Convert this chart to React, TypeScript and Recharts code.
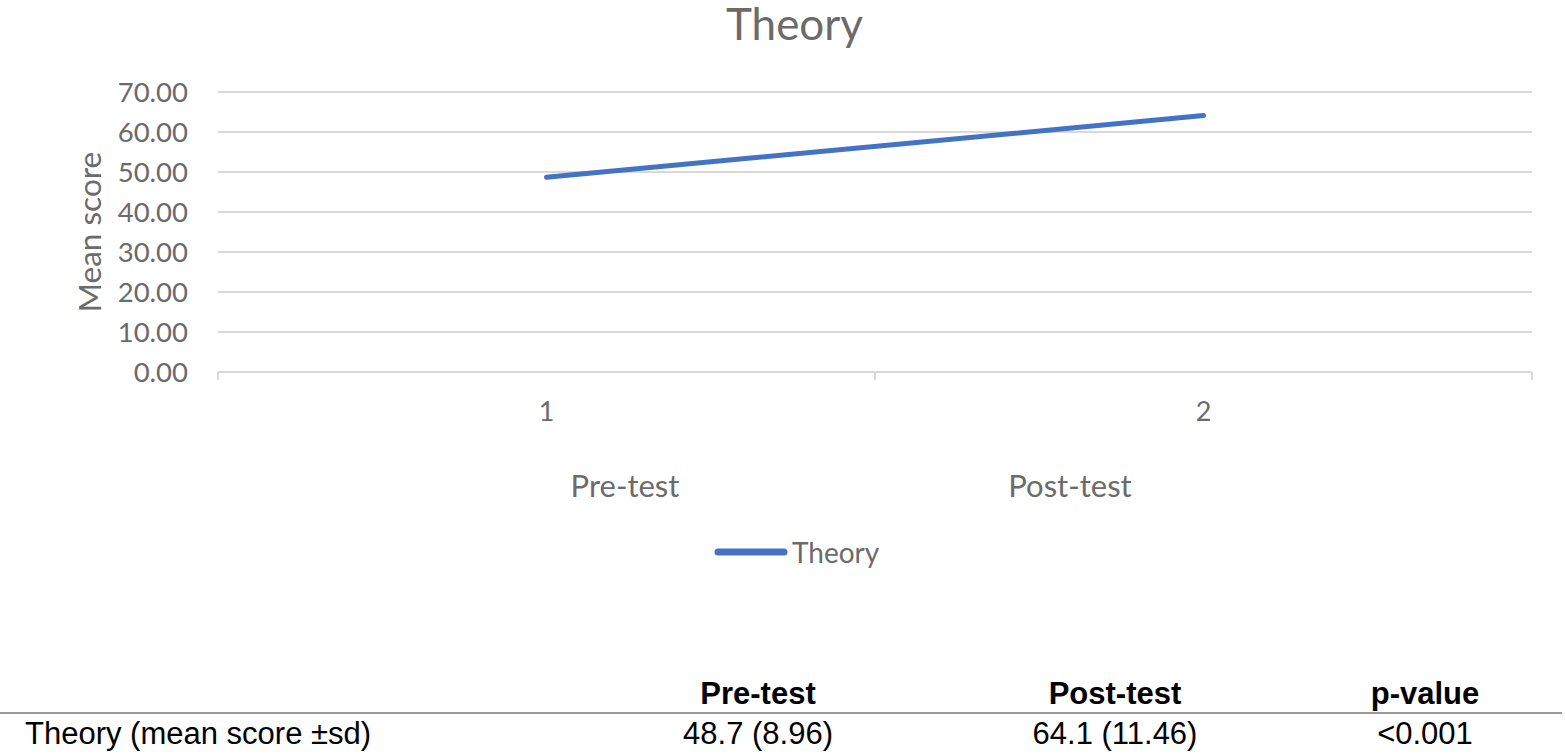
import React from "react";
import {
  LineChart,
  Line,
  XAxis,
  YAxis,
  CartesianGrid,
} from "recharts";

const categories = [1, 2];
const theoryMeans = [48.7, 64.1];
const phaseLabels = ["Pre-test", "Post-test"];
const yTicks = [0, 10, 20, 30, 40, 50, 60, 70];

const tableHeaders = ["Pre-test", "Post-test", "p-value"];
const tableRowLabel = "Theory (mean score ±sd)";
const tableRowValues = ["48.7 (8.96)", "64.1 (11.46)", "<0.001"];

const data = categories.map((c, i) => ({ x: c, theory: theoryMeans[i] }));

const GREY = "#6b6b6b";
const BLUE = "#4472C4";
const FONT = "Lato, 'Open Sans', sans-serif";

const XTick = (props: any) => {
  const { x, y, payload } = props;
  if (Number.isInteger(payload.value)) {
    return (
      <text x={x} y={y + 49} textAnchor="middle" fill={GREY} fontSize={27} fontFamily={FONT}>
        {payload.value}
      </text>
    );
  }
  return <line x1={x} y1={y} x2={x} y2={y + 8} stroke="#d9d9d9" strokeWidth={2} />;
};

const App: React.FC = () => {
  return (
    <div style={{ position: "absolute", left: 0, top: 0, width: 1565, height: 754, background: "#fff" }}>
      <div
        style={{
          position: "absolute",
          top: 0,
          width: 1565,
          textAlign: "center",
          fontFamily: FONT,
          fontSize: 44,
          color: GREY,
          lineHeight: "46px",
          left: 12,
        }}
      >
        Theory
      </div>
      <LineChart
        width={1565}
        height={600}
        data={data}
        margin={{ top: 92, right: 33, left: 0, bottom: 168 }}
      >
        <CartesianGrid vertical={false} stroke="#d9d9d9" strokeWidth={2} />
        <XAxis
          dataKey="x"
          type="number"
          domain={[0.5, 2.5]}
          ticks={[0.5, 1, 1.5, 2, 2.5]}
          height={60}
          axisLine={{ stroke: "#d9d9d9", strokeWidth: 2 }}
          tickLine={false}
          tickSize={0}
          tickMargin={0}
          tick={<XTick />}
          interval={0}
        />
        <YAxis
          width={218}
          domain={[0, 70]}
          ticks={yTicks}
          axisLine={false}
          tickLine={false}
          tickMargin={24}
          tickFormatter={(v: number) => v.toFixed(2)}
          tick={{ fill: GREY, fontSize: 27.5, fontFamily: FONT }}
          label={{
            value: "Mean score",
            angle: -90,
            position: "center",
            dx: -19,
            fill: GREY,
            fontSize: 31.5,
            fontFamily: FONT,
          }}
        />
        <Line
          dataKey="theory"
          name="Theory"
          stroke={BLUE}
          strokeWidth={5}
          strokeLinecap="round"
          dot={false}
          isAnimationActive={false}
        />
      </LineChart>
      {phaseLabels.map((l, i) => (
        <div
          key={l}
          style={{
            position: "absolute",
            top: 466,
            left: [625, 1070][i] - 100,
            width: 200,
            textAlign: "center",
            fontFamily: FONT,
            fontSize: 31,
            color: GREY,
          }}
        >
          {l}
        </div>
      ))}
      <div
        style={{
          position: "absolute",
          top: 535,
          left: 712,
          display: "flex",
          alignItems: "center",
          fontFamily: FONT,
          fontSize: 28,
          color: GREY,
        }}
      >
        <svg width={78} height={10} style={{ marginRight: 2 }}>
          <line x1={6} y1={5} x2={72} y2={5} stroke={BLUE} strokeWidth={7} strokeLinecap="round" />
        </svg>
        Theory
      </div>
      <div
        style={{
          position: "absolute",
          left: 0,
          top: 674,
          width: 1562,
          fontFamily: "'Liberation Sans', Arial, sans-serif",
          fontSize: 31,
          color: "#000",
        }}
      >
        <div style={{ position: "relative", height: 38, borderBottom: "2px solid #999" }}>
          {tableHeaders.map((h, i) => (
            <div
              key={h}
              style={{
                position: "absolute",
                left: [758, 1115, 1425][i] - 120,
                width: 240,
                textAlign: "center",
                fontWeight: "bold",
                top: 2,
              }}
            >
              {h}
            </div>
          ))}
        </div>
        <div style={{ position: "relative", height: 40 }}>
          <div style={{ position: "absolute", left: 25, top: 2 }}>{tableRowLabel}</div>
          {tableRowValues.map((v, i) => (
            <div
              key={v}
              style={{
                position: "absolute",
                left: [758, 1115, 1425][i] - 120,
                width: 240,
                textAlign: "center",
                top: 2,
              }}
            >
              {v}
            </div>
          ))}
        </div>
      </div>
    </div>
  );
};

export default App;
